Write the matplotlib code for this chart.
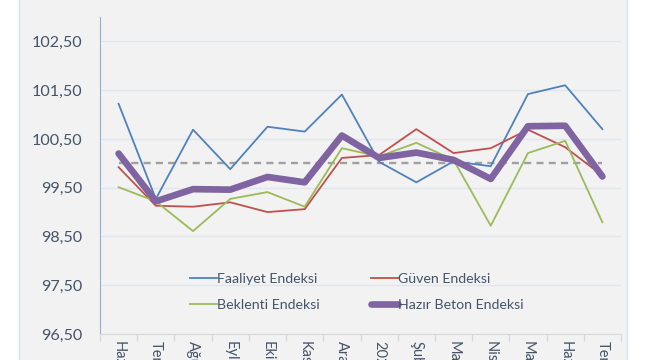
import numpy as np
import matplotlib
matplotlib.use("Agg")
import matplotlib.pyplot as plt
from matplotlib.patches import Rectangle
from matplotlib.ticker import FuncFormatter, FixedLocator

plt.rcParams['font.family'] = ['Lato', 'DejaVu Sans']

# aylar (alt etiketler, resimde kesik)
aylar = ["Haziran", "Temmuz", "Ağustos", "Eylül", "Ekim", "Kasım", "Aralık",
         "2023", "Şubat", "Mart", "Nisan", "Mayıs", "Haziran", "Temmuz"]

faaliyet = [101.22, 99.27, 100.69, 99.88, 100.75, 100.65, 101.41,
            100.03, 99.61, 100.04, 99.94, 101.42, 101.60, 100.70]
guven = [99.92, 99.13, 99.11, 99.20, 99.00, 99.06, 100.11,
         100.17, 100.70, 100.21, 100.31, 100.69, 100.33, 99.75]
beklenti = [99.51, 99.22, 98.61, 99.27, 99.41, 99.11, 100.31,
            100.14, 100.42, 100.07, 98.72, 100.21, 100.46, 98.79]
hazir_beton = [100.20, 99.22, 99.47, 99.46, 99.72, 99.61, 100.57,
               100.11, 100.22, 100.07, 99.68, 100.76, 100.77, 99.73]
esik = [100.0] * len(aylar)

yticks = [96.5, 97.5, 98.5, 99.5, 100.5, 101.5, 102.5]

W, H = 650, 360
fig = plt.figure(figsize=(W / 100, H / 100), dpi=100)
fig.patch.set_facecolor("white")

# grafik alani arka plani
fig.patches.append(Rectangle((19 / W, -0.01), (627 - 19) / W, 1.02,
                             transform=fig.transFigure, facecolor="#f2f2f2",
                             edgecolor="#dbe1ea", linewidth=1.0, zorder=-10))

ax = fig.add_axes([100 / W, 1 - 334 / H, (621 - 100) / W, (334 - 17) / H])
ax.set_facecolor("none")
ax.set_zorder(1)

x = np.arange(len(aylar))
ax.plot(x, esik, color="#a0a0a0", lw=1.7, dashes=(3, 2.2), zorder=2)
l1, = ax.plot(x, faaliyet, color="#4f81bd", lw=1.3, zorder=3)
l2, = ax.plot(x, guven, color="#c0504d", lw=1.3, zorder=3)
l3, = ax.plot(x, beklenti, color="#9bbb59", lw=1.3, zorder=3)
l4, = ax.plot(x, hazir_beton, color="#8064a2", lw=4.8, solid_capstyle="round", zorder=4)

ax.set_xlim(-0.5, len(aylar) - 0.5)
ax.set_ylim(96.5, 103.0)
ax.set_yticks(yticks)
ax.yaxis.set_major_formatter(FuncFormatter(lambda v, p: f"{v:.2f}".replace(".", ",")))
ax.tick_params(axis="y", length=0, pad=13, labelsize=11.6, labelcolor="#44546a")
ax.grid(axis="y", color="#e1e5ec", lw=1.0, zorder=1)

ax.set_xticks(x)
ax.set_xticklabels(aylar, rotation=-90, va="top", ha="center")
ax.tick_params(axis="x", length=0, pad=5, labelsize=10.5, labelcolor="#44546a")
ax.xaxis.set_minor_locator(FixedLocator(np.arange(-0.5, len(aylar), 1.0)))
ax.tick_params(axis="x", which="minor", length=5, color="#d9d9d9", width=1)

for s in ["top", "right"]:
    ax.spines[s].set_visible(False)
ax.spines["left"].set_color("#9aaccb")
ax.spines["bottom"].set_color("#d9d9d9")

# satir sirasi: Faaliyet, Guven / Beklenti, Hazir Beton
fig.legend([l1, l3, l2, l4],
           ["Faaliyet Endeksi", "Beklenti Endeksi", "Güven Endeksi", "Hazır Beton Endeksi"],
           loc="center left", bbox_to_anchor=(190 / W, 1 - 292 / H), ncol=2,
           frameon=False, fontsize=10.2, handlelength=1.9, handletextpad=0.0,
           columnspacing=3.6, labelspacing=0.95, borderpad=0, borderaxespad=0,
           labelcolor="#44546a")

fig.savefig("out.png", dpi=100, facecolor=fig.get_facecolor())
